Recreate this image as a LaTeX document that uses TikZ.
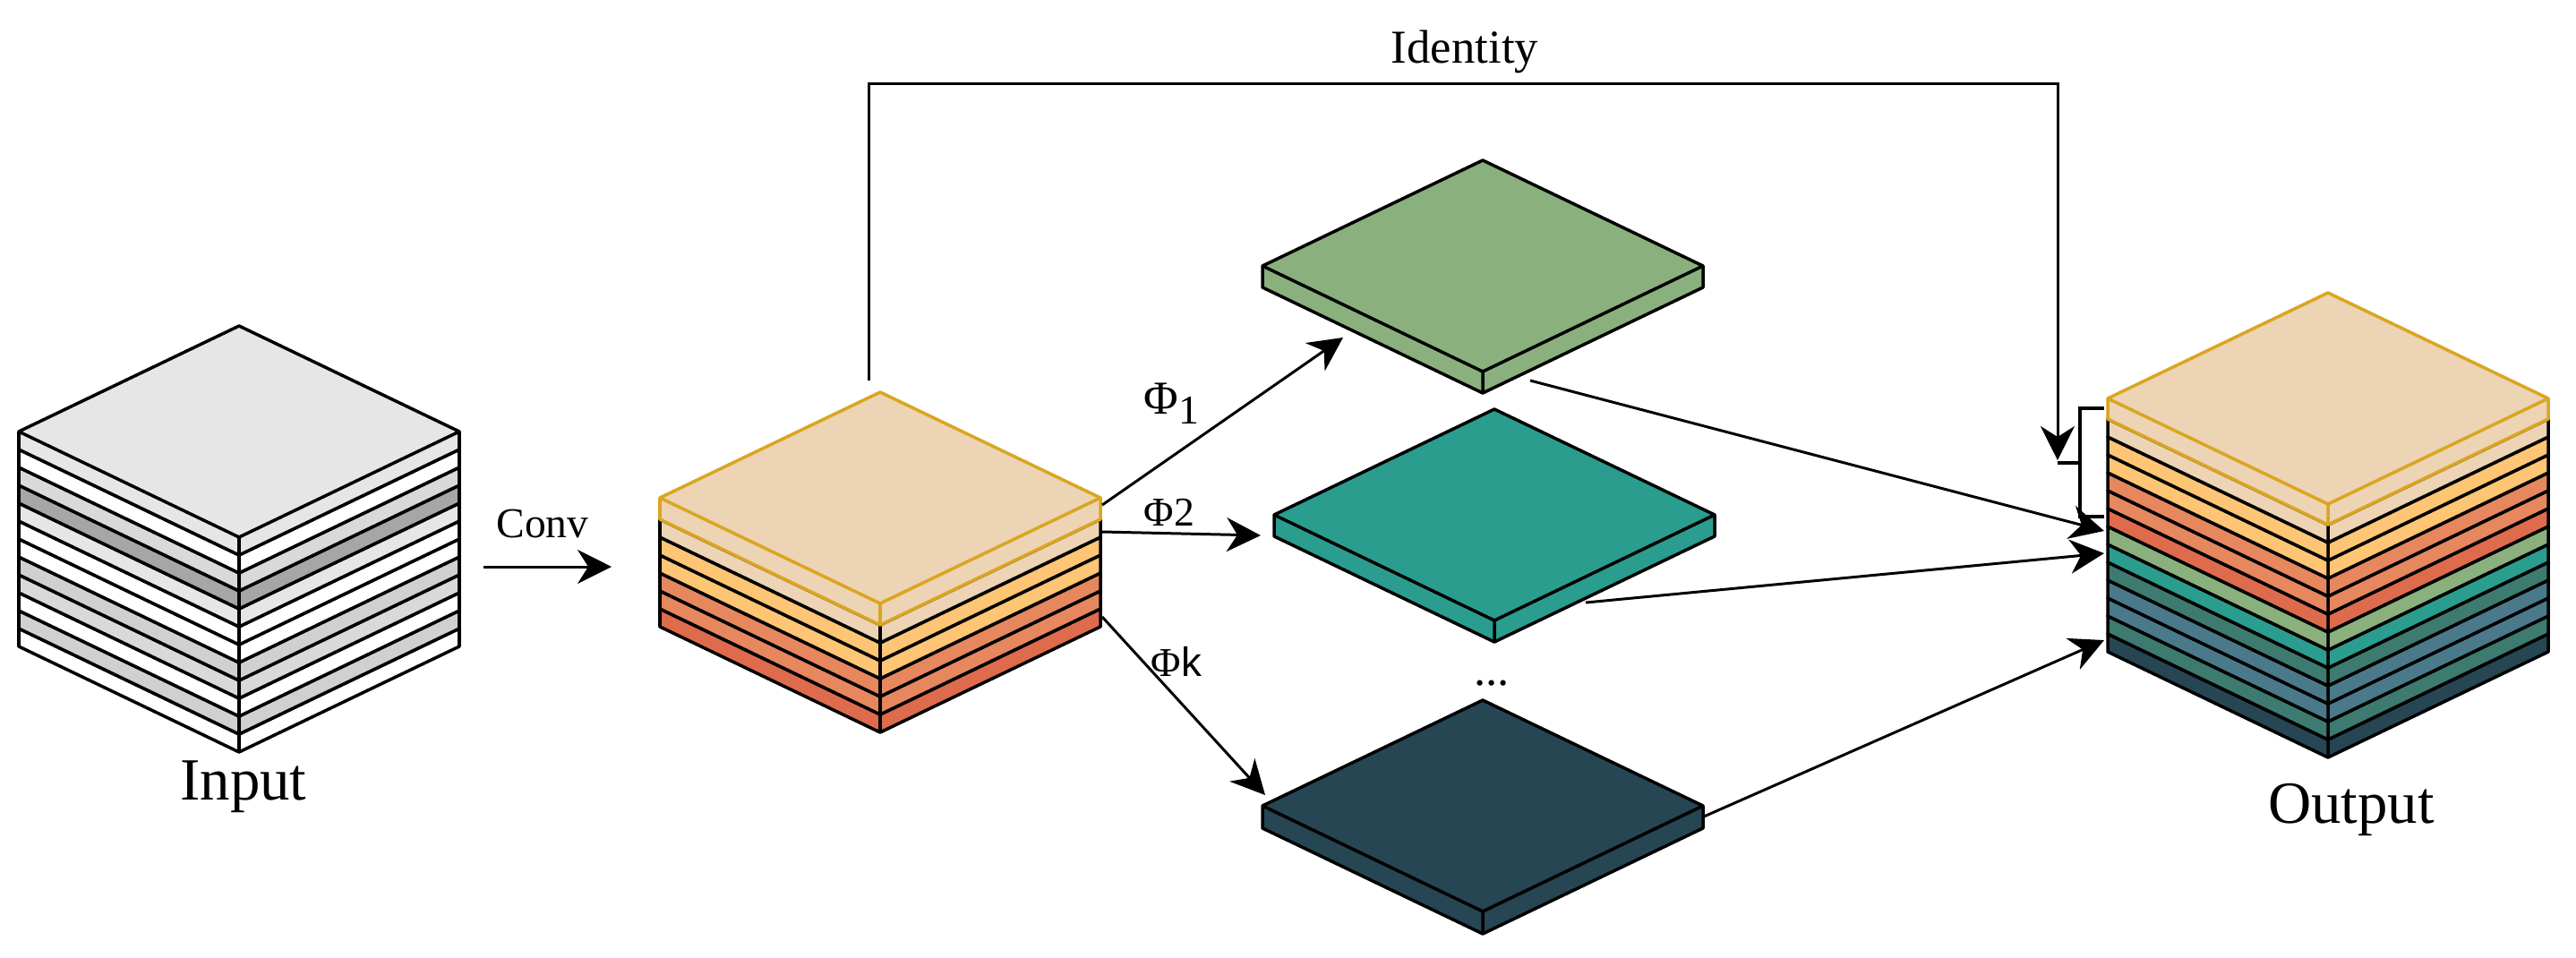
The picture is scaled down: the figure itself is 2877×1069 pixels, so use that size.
\documentclass[tikz,border=0pt]{standalone}
\usepackage{fontspec}
\setmainfont{Liberation Serif}
\newfontfamily\sansk{Liberation Sans}
\usetikzlibrary{arrows.meta}

\definecolor{gA}{HTML}{E6E6E6}
\definecolor{gB}{HTML}{D9D9D9}
\definecolor{gC}{HTML}{A6A6A6}
\definecolor{gD}{HTML}{D0D0D0}
\definecolor{beige}{HTML}{ECD4B4}
\definecolor{yel}{HTML}{FDC574}
\definecolor{sal}{HTML}{E6875E}
\definecolor{redo}{HTML}{DE6B4C}
\definecolor{grn}{HTML}{8AB17D}
\definecolor{tealA}{HTML}{2A9D8F}
\definecolor{dteal}{HTML}{3D7A70}
\definecolor{steel}{HTML}{4A7A8A}
\definecolor{navy}{HTML}{264653}
\definecolor{gold}{HTML}{DAA520}

\def\hwd{246}
\def\dyd{118}
% #1 cx, #2 y of left top corner, #3 thickness, #4 fill, #5 edge colour
\newcommand{\slab}[5]{%
  \path[fill=#4] ({#1-\hwd},{#2}) -- ({#1},{#2-\dyd}) -- ({#1+\hwd},{#2})
     -- ({#1+\hwd},{#2+#3}) -- ({#1},{#2+\dyd+#3}) -- ({#1-\hwd},{#2+#3}) -- cycle;
  \draw[edge,draw=#5] ({#1-\hwd},{#2}) -- ({#1},{#2-\dyd}) -- ({#1+\hwd},{#2}) -- ({#1},{#2+\dyd}) -- cycle
     ({#1-\hwd},{#2}) -- ({#1-\hwd},{#2+#3}) -- ({#1},{#2+\dyd+#3}) -- ({#1+\hwd},{#2+#3}) -- ({#1+\hwd},{#2})
     ({#1},{#2+\dyd}) -- ({#1},{#2+\dyd+#3});
}

\begin{document}
\begin{tikzpicture}[x=0.01cm,y=-0.01cm,
  edge/.style={line width=1.0pt, line join=round},
  arr/.style={-{Stealth[length=3.8mm,width=3.8mm,inset=1.2mm]}, line width=0.85pt},
  thickln/.style={line width=1.4pt},
  biglbl/.style={font=\fontsize{19}{19}\selectfont, anchor=base, inner sep=0pt},
  midlbl/.style={font=\fontsize{13.5}{13.5}\selectfont, anchor=base, inner sep=0pt},
  philbl/.style={font=\fontsize{13}{13}\selectfont, anchor=base west, inner sep=0pt}]

\useasboundingbox (0,0) rectangle (2877,1069);
\fill[white] (0,0) rectangle (2877,1069);

% ---------- Input cube (12 layers) ----------
\foreach \i/\c in {11/white,10/gD,9/white,8/gB,7/gD,6/white,5/white,4/gA,3/gC,2/gB,1/white,0/gA}{
  \slab{267}{482+20*\i}{20}{\c}{black}
}

% ---------- Middle cube ----------
\foreach \i/\c in {5/redo,4/sal,3/sal,2/yel,1/yel,0/beige}{
  \slab{983}{580+20*\i}{20}{\c}{black}
}
\slab{983}{556}{24}{beige}{gold}

% ---------- Slabs ----------
\slab{1656}{297}{24}{grn}{black}
\slab{1669}{575}{24}{tealA}{black}
\slab{1656}{900}{25}{navy}{black}

% ---------- Output cube (13 layers) ----------
\foreach \i/\c in {12/navy,11/dteal,10/steel,9/steel,8/dteal,7/tealA,6/grn,5/redo,4/sal,3/sal,2/yel,1/yel,0/beige}{
  \slab{2600}{468+20*\i}{20}{\c}{black}
}
\slab{2600}{445}{23}{beige}{gold}

% ---------- coordinates ----------
\coordinate (convS) at (540,633);
\coordinate (convE) at (683,633);
\coordinate (idS) at (970,425);
\coordinate (idC1) at (970,93);
\coordinate (idC2) at (2298,93);
\coordinate (idE) at (2298,514);
\coordinate (stubS) at (2298,517);
\coordinate (stubE) at (2323,517);
\coordinate (brT) at (2350,456);
\coordinate (brTL) at (2323,456);
\coordinate (brBL) at (2323,577);
\coordinate (brB) at (2350,577);
\coordinate (p1S) at (1231,564);
\coordinate (p1E) at (1500,377);
\coordinate (p2S) at (1231,594);
\coordinate (p2E) at (1408,598);
\coordinate (pkS) at (1231,689);
\coordinate (pkE) at (1413,888);
\coordinate (gS) at (1709,425);
\coordinate (gE) at (2350,593);
\coordinate (tS) at (1771,673);
\coordinate (tE) at (2350,618);
\coordinate (nS) at (1903,912);
\coordinate (nE) at (2350,715);

% ---------- connectors ----------
\draw[arr] (convS) -- (convE);
\draw[arr] (idS) -- (idC1) -- (idC2) -- (idE);
\draw[thickln] (stubS) -- (stubE);
\draw[thickln] (brT) -- (brTL) -- (brBL) -- (brB);
\draw[arr] (p1S) -- (p1E);
\draw[arr] (p2S) -- (p2E);
\draw[arr] (pkS) -- (pkE);
\draw[arr] (gS) -- (gE);
\draw[arr] (tS) -- (tE);
\draw[arr] (nS) -- (nE);

% ---------- labels ----------
\node[biglbl] (inlbl) at (272,893) {Input};
\node[biglbl] (outlbl) at (2626,919) {Output};
\node[midlbl] (convlbl) at (606,600) {Conv};
\node[font=\fontsize{15}{15}\selectfont, anchor=base, inner sep=0pt] (idlbl) at (1636,70) {Identity};
\node[anchor=base west, inner sep=0pt, font=\fontsize{15}{15}\selectfont] (phi1) at (1277,462) {Φ\raisebox{-1.1mm}{\fontsize{13}{13}\selectfont 1}};
\node[philbl] (phi2) at (1277,587) {Φ2};
\node[philbl] (phik) at (1285,755) {Φ{\sansk k}};
\node[font=\fontsize{15}{15}\selectfont, anchor=base, inner sep=0pt] (dots) at (1666,765) {...};

\end{tikzpicture}
\end{document}
